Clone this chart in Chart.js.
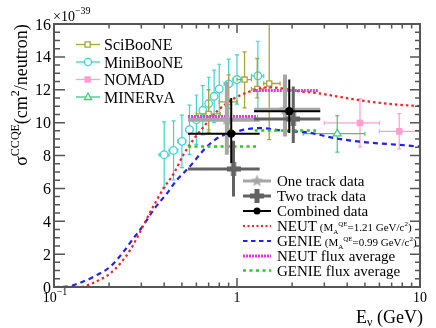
<!DOCTYPE html>
<html><head><meta charset="utf-8">
<script src="https://cdn.jsdelivr.net/npm/chart.js@4.4.1/dist/chart.umd.min.js"></script>
<style>html,body{margin:0;padding:0;background:#fff}#wrap{width:436px;height:328px;position:relative}</style>
</head><body><div id="wrap"><canvas id="c"></canvas></div>
<script>
// ---- Model curves (E in GeV, sigma in 1e-39 cm^2/neutron) ----
const neutE  = [0.1,0.14,0.158,0.18,0.203,0.231,0.261,0.296,0.3225,0.365,0.397,0.451,0.51,0.58,0.63,0.78,0.957,1.18,1.49,1.72,2.21,2.73,3.5,5.12,7.45,10];
const neutXS = [0,0,0.18,0.47,0.83,1.45,2.26,3.37,4.19,5.3,6.0,6.9,8.05,9.0,9.5,10.7,11.45,11.9,12.15,12.1,11.9,11.8,11.6,11.3,11.1,11.0];
const genieE  = [0.1,0.118,0.139,0.165,0.203,0.24,0.272,0.309,0.35,0.415,0.47,0.543,0.686,0.81,0.957,1.13,1.34,1.8,2.51,3.36,5.12,7.45,10];
const genieXS = [0,0.02,0.26,0.63,1.24,2.15,2.97,3.78,4.7,5.71,6.52,7.24,8.55,9.16,9.4,9.6,9.67,9.5,9.38,9.07,8.8,8.66,8.55];
// flux averaged predictions (bin edges, value)
const neutFluxLo = [0.54,1.22], neutFluxHi = [1.3,2.8], neutFluxXS = [10.38,11.95];
const genieFluxLo = [0.54,1.25], genieFluxHi = [1.3,2.7], genieFluxXS = [8.55,9.52];
// ---- MiniBooNE ----
const mbE   = [0.40,0.45,0.50,0.55,0.60,0.65,0.70,0.75,0.80,0.90,1.00,1.30];
const mbXS  = [8.05,8.31,8.86,9.57,10.18,10.75,11.16,11.6,12.05,12.36,12.62,12.85];
const mbErr = [2.0,1.8,1.6,1.5,1.5,1.5,1.6,1.6,1.5,1.5,1.5,2.1];
const mbHalfBin = [0.025,0.025,0.025,0.025,0.025,0.025,0.025,0.025,0.025,0.05,0.05,0.1];
// ---- SciBooNE ----
const sbE  = [0.70,0.90,1.10,1.29,1.50];
const sbXS = [10.53,11.26,12.62,12.05,12.38];
const sbElo = [0.60,0.80,1.00,1.20,1.40], sbEhi = [0.81,1.00,1.20,1.40,1.72];
const sbLo = [9.4,9.6,10.9,11.5,8.96], sbHi = [12.0,12.9,14.3,13.9,16.3];
// ---- NOMAD ----
const nomE = [4.70,7.70], nomXS = [9.98,9.47];
const nomElo = [3.0,6.0], nomEhi = [6.0,10.0], nomLo = [8.52,8.40], nomHi = [11.45,10.55];
// ---- MINERvA ----
const minE = [3.53], minXS = [9.33], minElo = [2.3], minEhi = [5.0], minLo = [8.2], minHi = [10.43];
// ---- T2K INGRID ----
const binLo = [0.54,1.24], binHi = [1.33,2.85];
const oneE = [0.88,1.83], oneXS = [10.18,10.79], oneLo = [8.05,9.16], oneHi = [12.5,12.93];
const twoE = [0.957,2.03], twoXS = [7.18,10.22], twoLo = [5.5,8.76], twoHi = [8.9,12.2];
const comE = [0.93,1.93], comXS = [9.33,10.69], comLo = [7.54,9.37], comHi = [11.5,12.62];
// ticks
const yTicks = [0,2,4,6,8,10,12,14,16];

const FONT = '"Liberation Serif","Times New Roman",serif';
const COL = {olive:'#a8a53a', cyan:'#3fd3d3', pink:'#ff9fcd', mint:'#3ccc80', lgray:'#a6a6a6', dgray:'#626262',
  red:'#ff1f1f', blue:'#1f1fff', magenta:'#f030f0', green:'#22cc22'};

function pts(xs, ys){ return xs.map((x,i)=>({x:x, y:ys[i]})); }
function makeStar(color, r){
  const s = Math.ceil(r*2+2), c = document.createElement('canvas'); c.width=c.height=s;
  const g = c.getContext('2d'); g.fillStyle=color; g.beginPath();
  for(let i=0;i<10;i++){ const a=-Math.PI/2+i*Math.PI/5, rr=(i%2)?r*0.42:r; g.lineTo(s/2+rr*Math.cos(a), s/2+rr*Math.sin(a)); }
  g.closePath(); g.fill(); return c;
}
function makePlus(color, r, t){
  const s = Math.ceil(r*2), c = document.createElement('canvas'); c.width=c.height=s;
  const g = c.getContext('2d'); g.fillStyle=color;
  g.fillRect(0, s/2-t/2, s, t); g.fillRect(s/2-t/2, 0, t, s); return c;
}
const starImg = makeStar(COL.lgray, 6.5);
const plusImg = makePlus(COL.dgray, 7, 5);

function errObj(color,width,xlo,xhi,ylo,yhi,cap){ return {color,width,xlo,xhi,ylo,yhi,cap:cap||0}; }
function segs(lo,hi,v){ const d=[]; lo.forEach((l,i)=>{ d.push({x:l,y:v[i]}); d.push({x:hi[i],y:v[i]}); if(i<lo.length-1) d.push({x:(hi[i]+lo[i+1])/2,y:null}); }); return d; }

const datasets = [
  {label:'Combined data', data:pts(comE,comXS), pointStyle:'circle', pointRadius:4.2, backgroundColor:'#000', borderColor:'#000', borderWidth:0,
   err:errObj('#000',2,binLo,binHi,comLo,comHi)},
  {label:'Two track data', data:pts(twoE,twoXS), pointStyle:plusImg, pointRadius:7,
   err:errObj(COL.dgray,3,binLo,binHi,twoLo,twoHi)},
  {label:'One track data', data:pts(oneE,oneXS), pointStyle:starImg, pointRadius:7,
   err:errObj(COL.lgray,4,binLo,binHi,oneLo,oneHi)},
  {label:'GENIE flux', data:segs(genieFluxLo,genieFluxHi,genieFluxXS), showLine:true, spanGaps:false, pointRadius:0, borderColor:COL.green, borderWidth:2.6, borderDash:[3,3.5]},
  {label:'NEUT flux', data:segs(neutFluxLo,neutFluxHi,neutFluxXS), showLine:true, spanGaps:false, pointRadius:0, borderColor:COL.magenta, borderWidth:3, borderDash:[2,1]},
  {label:'NEUT', data:pts(neutE,neutXS), showLine:true, pointRadius:0, borderColor:COL.red, borderWidth:2.2, borderDash:[2.5,3], cubicInterpolationMode:'monotone'},
  {label:'GENIE', data:pts(genieE,genieXS), showLine:true, pointRadius:0, borderColor:COL.blue, borderWidth:2.2, borderDash:[5,4], cubicInterpolationMode:'monotone'},
  {label:'MINERvA', data:pts(minE,minXS), pointStyle:'triangle', pointRadius:4.5, backgroundColor:'#fff', borderColor:COL.mint, borderWidth:1.2,
   err:errObj(COL.mint,1.2,minElo,minEhi,minLo,minHi,2)},
  {label:'NOMAD', data:pts(nomE,nomXS), pointStyle:'rect', pointRadius:4, backgroundColor:COL.pink, borderColor:COL.pink, borderWidth:1,
   err:errObj(COL.pink,1.2,nomElo,nomEhi,nomLo,nomHi,2)},
  {label:'SciBooNE', data:pts(sbE,sbXS), pointStyle:'rect', pointRadius:3.6, backgroundColor:'#fff', borderColor:COL.olive, borderWidth:1.3,
   err:errObj(COL.olive,1.3,sbElo,sbEhi,sbLo,sbHi,2)},
  {label:'MiniBooNE', data:pts(mbE,mbXS), pointStyle:'circle', pointRadius:3.8, backgroundColor:'#fff', borderColor:COL.cyan, borderWidth:1.3,
   err:errObj(COL.cyan,1.2,mbE.map((e,i)=>e-mbHalfBin[i]),mbE.map((e,i)=>e+mbHalfBin[i]),mbXS.map((v,i)=>v-mbErr[i]),mbXS.map((v,i)=>v+mbErr[i]),2)}
];

const errPlugin = {
  id:'errbars',
  beforeDatasetDraw(chart,args){
    const ds = chart.data.datasets[args.index]; if(!ds.err) return;
    const ctx=chart.ctx, a=chart.chartArea, X=chart.scales.x, Y=chart.scales.y, e=ds.err;
    ctx.save(); ctx.beginPath(); ctx.rect(a.left,a.top,a.right-a.left,a.bottom-a.top); ctx.clip();
    ctx.strokeStyle=e.color; ctx.lineWidth=e.width; ctx.lineCap='butt';
    ds.data.forEach((p,i)=>{
      const px=X.getPixelForValue(p.x), py=Y.getPixelForValue(p.y);
      const x1=X.getPixelForValue(e.xlo[i]), x2=X.getPixelForValue(e.xhi[i]);
      const y1=Y.getPixelForValue(e.ylo[i]), y2=Y.getPixelForValue(e.yhi[i]);
      ctx.beginPath(); ctx.moveTo(x1,py); ctx.lineTo(x2,py); ctx.moveTo(px,y1); ctx.lineTo(px,y2);
      if(e.cap){ const c=e.cap;
        ctx.moveTo(px-c,y1); ctx.lineTo(px+c,y1); ctx.moveTo(px-c,y2); ctx.lineTo(px+c,y2);
        ctx.moveTo(x1,py-c); ctx.lineTo(x1,py+c); ctx.moveTo(x2,py-c); ctx.lineTo(x2,py+c); }
      ctx.stroke();
    });
    ctx.restore();
  }
};

function rich(ctx,x,y,parts,align){
  let w=0; parts.forEach(p=>{ctx.font=p[1]+'px '+FONT; w+=ctx.measureText(p[0]).width;});
  if(align==='right') x-=w; else if(align==='center') x-=w/2;
  ctx.textBaseline='alphabetic'; ctx.textAlign='left';
  parts.forEach(p=>{ctx.font=p[1]+'px '+FONT; ctx.fillText(p[0],x,y+(p[2]||0)); x+=ctx.measureText(p[0]).width;});
}

const framePlugin = {
  id:'frame',
  afterDatasetsDraw(chart){
    const ctx=chart.ctx, a=chart.chartArea, X=chart.scales.x, Y=chart.scales.y;
    ctx.save(); ctx.strokeStyle='#555'; ctx.lineWidth=1.5; ctx.beginPath();
    for(let v=0; v<=16.001; v+=0.5){
      const py=Y.getPixelForValue(v), major=Math.abs(v/2-Math.round(v/2))<1e-6;
      ctx.moveTo(a.left,py); ctx.lineTo(a.left+(major?11:6),py);
      ctx.moveTo(a.right,py); ctx.lineTo(a.right-(major?10:5),py);
    }
    [0.1,1].forEach(d=>{ for(let k=1;k<=9;k++){ const v=d*k; const px=X.getPixelForValue(v), major=(k===1);
      ctx.moveTo(px,a.bottom); ctx.lineTo(px,a.bottom-(major?9:4.5));
      ctx.moveTo(px,a.top); ctx.lineTo(px,a.top+(major?9:4.5)); } });
    ctx.stroke();
    ctx.lineWidth=2; ctx.strokeRect(a.left,a.top,a.right-a.left,a.bottom-a.top);
    ctx.restore();
  },
  afterDraw(chart){
    const ctx=chart.ctx, a=chart.chartArea, X=chart.scales.x, Y=chart.scales.y;
    ctx.save(); ctx.fillStyle='#000';
    yTicks.forEach(v=>{ rich(ctx, a.left-3, Y.getPixelForValue(v)+5.5, [[String(v),16]], 'right'); });
    rich(ctx, X.getPixelForValue(0.1)+1, 302, [['10',14],['\u22121',10,-7]], 'center');
    rich(ctx, X.getPixelForValue(1), 302, [['1',14]], 'center');
    rich(ctx, X.getPixelForValue(10), 302, [['10',14]], 'center');
    rich(ctx, 53, 21, [['\u00d710',14],['\u221239',10,-7]], 'left');
    rich(ctx, 423, 323, [['E',18],['\u03bd',12,3],[' (GeV)',18]], 'right');
    ctx.save(); ctx.translate(27,95); ctx.rotate(-Math.PI/2);
    rich(ctx,0,0,[['\u03c3',18],['CCQE',12,-8],['(cm',18],['2',12,-8],['/neutron)',18]],'center');
    ctx.restore();

    const L1 = [
      ['SciBooNE',COL.olive,'rect',true],['MiniBooNE',COL.cyan,'circle',true],
      ['NOMAD',COL.pink,'rect',false],['MINERvA',COL.mint,'triangle',true]];
    const L1y=[44.5,62,79.5,97];
    L1.forEach((e,i)=>{ const y=L1y[i];
      ctx.strokeStyle=e[1]; ctx.lineWidth=1.3; ctx.setLineDash([]);
      ctx.beginPath(); ctx.moveTo(76,y); ctx.lineTo(100,y); ctx.stroke();
      ctx.beginPath();
      if(e[2]==='rect'){ ctx.rect(85,y-2.6,5.2,5.2); }
      else if(e[2]==='circle'){ ctx.arc(88,y,3.6,0,Math.PI*2); }
      else { ctx.moveTo(88,y-4); ctx.lineTo(91.6,y+2.5); ctx.lineTo(84.4,y+2.5); ctx.closePath(); }
      ctx.fillStyle=e[3]?'#fff':e[1]; ctx.fill(); ctx.stroke();
      ctx.fillStyle='#000'; rich(ctx,104,y+5.5,[[e[0],16]],'left');
    });

    const ly=[181,196,211,226,241,256,270.5], lx1=243, lx2=271, tx=277;
    function seg(y,col,w,dash){ ctx.strokeStyle=col; ctx.lineWidth=w; ctx.setLineDash(dash||[]); ctx.beginPath(); ctx.moveTo(lx1,y); ctx.lineTo(lx2,y); ctx.stroke(); ctx.setLineDash([]); }
    seg(ly[0],COL.lgray,3); ctx.drawImage(starImg,257-starImg.width/2,ly[0]-starImg.height/2);
    seg(ly[1],COL.dgray,3); ctx.drawImage(plusImg,257-plusImg.width/2,ly[1]-plusImg.height/2);
    seg(ly[2],'#000',2); ctx.fillStyle='#000'; ctx.beginPath(); ctx.arc(257,ly[2],3.5,0,Math.PI*2); ctx.fill();
    seg(ly[3],COL.red,2,[2,2.5]);
    seg(ly[4],COL.blue,2,[4.5,3.5]);
    seg(ly[5],COL.magenta,3,[2,1]);
    seg(ly[6],COL.green,2.6,[3,3.5]);
    ctx.fillStyle='#000';
    rich(ctx,tx,ly[0]+5,[['One track data',15]]);
    rich(ctx,tx,ly[1]+5,[['Two track data',15]]);
    rich(ctx,tx,ly[2]+5,[['Combined data',15]]);
    rich(ctx,tx,ly[3]+5,[['NEUT',15],[' (M',11],['A',7,3],['QE',7,-5],['=1.21 GeV/c',11],['2',7,-5],[')',11]]);
    rich(ctx,tx,ly[4]+5,[['GENIE',15],[' (M',11],['A',7,3],['QE',7,-5],['=0.99 GeV/c',11],['2',7,-5],[')',11]]);
    rich(ctx,tx,ly[5]+5,[['NEUT flux average',15]]);
    rich(ctx,tx,ly[6]+5,[['GENIE flux average',15]]);
    ctx.restore();
  }
};

new Chart(document.getElementById('c'), {
  type:'scatter',
  data:{datasets:datasets},
  options:{
    responsive:true, maintainAspectRatio:false, animation:false, devicePixelRatio:1,
    layout:{padding:{left:54,right:16,top:24,bottom:41}},
    plugins:{legend:{display:false}, tooltip:{enabled:false}},
    scales:{
      x:{type:'logarithmic', min:0.1, max:10, display:false},
      y:{type:'linear', min:0, max:16, display:false}
    }
  },
  plugins:[errPlugin, framePlugin]
});
</script></body></html>
